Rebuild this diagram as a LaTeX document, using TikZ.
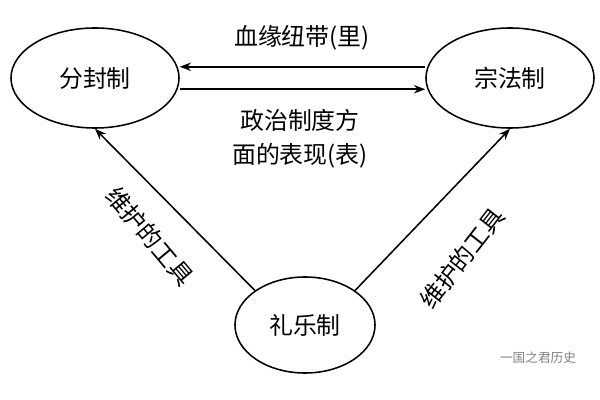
\documentclass[tikz,border=0pt]{standalone}
\usepackage{fontspec}
\newfontfamily\cjk{Noto Sans CJK SC}
\usetikzlibrary{arrows.meta, positioning, shapes.geometric}
\tikzstyle{arrow} = [line width=1.1pt, -{Stealth[length=8pt,width=6pt]}]
\begin{document}
\begin{tikzpicture}[x=0.025cm, y=-0.025cm,
    every node/.style={align=center, font=\cjk\fontsize{17}{20}\selectfont},
    sys/.style={draw, line width=1.1pt, ellipse, minimum width=4.2cm, minimum height=2.5cm},
    note/.style={inner sep=1pt}]
    \useasboundingbox (0,0) rectangle (600,400);

    % The three systems
    \node[sys] (fenfeng) at (95,78) {分封制};
    \node[sys] (zongfa) at (510,78) {宗法制};
    \node[sys, minimum width=3.5cm, minimum height=2.4cm] (liyue) at (305,325) {礼乐制};

    % Top pair of arrows
    \draw[arrow] ([yshift=8pt]zongfa.west) -- ([yshift=8pt]fenfeng.east);
    \draw[arrow] ([yshift=-8pt]fenfeng.east) -- ([yshift=-8pt]zongfa.west);
    \node[note] (li) at (302,38) {血缘纽带(里)};
    \node[note] (biao1) at (300,120) {政治制度方};
    \node[note, below=6pt of biao1] (biao2) {面的表现(表)};

    % Diagonal arrows from liyue
    \draw[arrow] (liyue.north west) -- (fenfeng.south);
    \draw[arrow] (liyue.north east) -- (zongfa.south);
    \node[note, rotate=-50] (tool1) at (150,236) {维护的工具};
    \node[note, rotate=52] (tool2) at (462,258) {维护的工具};

    % Watermark
    \node[note, text=gray, font=\cjk\fontsize{9}{11}\selectfont] (mark) at (538,358) {一国之君历史};
\end{tikzpicture}
\end{document}
